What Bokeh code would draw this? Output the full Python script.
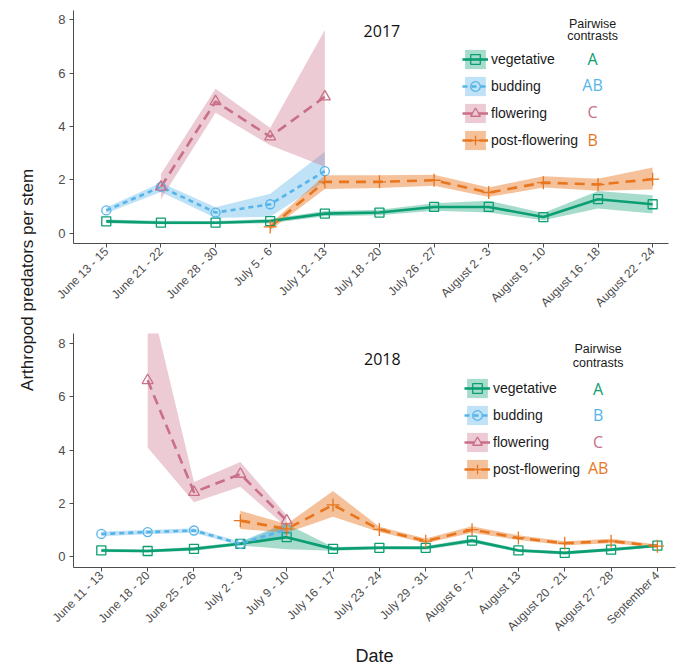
import math
from bokeh.plotting import figure
from bokeh.models import ColumnDataSource, Range1d, FixedTicker, Label, Legend, LegendItem
from bokeh.layouts import row, column
from bokeh.embed import file_html
from bokeh.resources import INLINE

# ---------------- data ----------------
dates_2017 = ["June 13 - 15", "June 21 - 22", "June 28 - 30", "July 5 - 6", "July 12 - 13",
              "July 18 - 20", "July 26 - 27", "August 2 - 3", "August 9 - 10",
              "August 16 - 18", "August 22 - 24"]
veg_2017 = [0.45, 0.40, 0.40, 0.46, 0.74, 0.78, 0.99, 0.99, 0.61, 1.28, 1.09]
veg_lo_2017 = [0.38, 0.34, 0.34, 0.38, 0.64, 0.68, 0.85, 0.78, 0.49, 0.93, 0.74]
veg_hi_2017 = [0.52, 0.47, 0.46, 0.54, 0.84, 0.88, 1.13, 1.22, 0.76, 1.59, 1.43]
bud_2017 = [0.86, 1.74, 0.78, 1.09, 2.33, None, None, None, None, None, None]
bud_lo_2017 = [0.75, 1.55, 0.58, 0.62, 1.95, None, None, None, None, None, None]
bud_hi_2017 = [0.97, 1.90, 0.98, 1.48, 3.06, None, None, None, None, None, None]
flow_2017 = [None, 1.74, 4.94, 3.62, 5.12, None, None, None, None, None, None]
flow_lo_2017 = [None, 1.28, 4.52, 3.30, 2.50, None, None, None, None, None, None]
flow_hi_2017 = [None, 2.22, 5.42, 3.95, 7.62, None, None, None, None, None, None]
post_2017 = [None, None, None, 0.24, 1.93, 1.93, 1.99, 1.53, 1.90, 1.83, 2.03]
post_lo_2017 = [None, None, None, 0.12, 1.66, 1.70, 1.78, 1.36, 1.72, 1.60, 1.64]
post_hi_2017 = [None, None, None, 0.36, 2.18, 2.18, 2.20, 1.72, 2.14, 2.05, 2.47]
letters_2017 = ["A", "AB", "C", "B"]

dates_2018 = ["June 11 - 13", "June 18 - 20", "June 25 - 26", "July 2 - 3", "July 9 - 10",
              "July 16 - 17", "July 23 - 24", "July 29 - 31", "August 6 - 7", "August 13",
              "August 20 - 21", "August 27 - 28", "September 4"]
veg_2018 = [0.23, 0.21, 0.29, 0.48, 0.73, 0.29, 0.33, 0.33, 0.60, 0.23, 0.14, 0.26, 0.41]
veg_lo_2018 = [0.17, 0.15, 0.22, 0.42, 0.28, 0.22, 0.27, 0.26, 0.52, 0.17, 0.08, 0.20, 0.35]
veg_hi_2018 = [0.29, 0.27, 0.36, 0.55, 1.22, 0.36, 0.40, 0.40, 0.68, 0.29, 0.20, 0.32, 0.47]
bud_2018 = [0.85, 0.92, 0.98, 0.48, 1.02, None, None, None, None, None, None, None, None]
bud_lo_2018 = [0.76, 0.84, 0.90, 0.42, 0.80, None, None, None, None, None, None, None, None]
bud_hi_2018 = [0.94, 1.00, 1.06, 0.56, 1.28, None, None, None, None, None, None, None, None]
flow_2018 = [None, 6.62, 2.42, 3.10, 1.35, None, None, None, None, None, None, None, None]
flow_lo_2018 = [None, 4.10, 2.04, 2.62, 1.10, None, None, None, None, None, None, None, None]
flow_hi_2018 = [None, 10.1, 2.80, 3.55, 1.55, None, None, None, None, None, None, None, None]
post_2018 = [None, None, None, 1.35, 1.04, 1.94, 1.02, 0.58, 1.01, 0.70, 0.50, 0.58, 0.39]
post_lo_2018 = [None, None, None, 1.04, 0.90, 1.50, 0.92, 0.50, 0.90, 0.62, 0.43, 0.50, 0.34]
post_hi_2018 = [None, None, None, 1.72, 1.22, 2.46, 1.12, 0.68, 1.14, 0.80, 0.58, 0.67, 0.45]
letters_2018 = ["A", "B", "C", "AB"]

y_ticks = [0, 2, 4, 6, 8]
stage_names = ["vegetative", "budding", "flowering", "post-flowering"]

# ---------------- styles ----------------
STYLES = [
    dict(color="#0A9E72", alpha=0.36, dash="solid", marker="square", size=9),
    dict(color="#56B4E9", alpha=0.38, dash="5 4", marker="circle", size=9),
    dict(color="#C96F88", alpha=0.36, dash="10 6", marker="triangle", size=11),
    dict(color="#E8761E", alpha=0.45, dash="10 7", marker="cross", size=13),
]
AXIS_COL = "#4D4D4D"
FONT = "Liberation Sans"
LETTER_FONT = "Open Sans"


def make_panel(cats, series, letters, year, xr, yr, fw, fh, mb_top, mb_bottom, mb_right,
               legend_loc, letter_x, letter_ys, pw_x, pw_ys, year_xy, show_xlabel):
    p = figure(frame_width=fw, frame_height=fh, x_range=Range1d(*xr), y_range=Range1d(*yr),
               toolbar_location=None, output_backend="svg",
               min_border_left=25, min_border_right=mb_right, min_border_top=mb_top,
               min_border_bottom=mb_bottom)
    p.outline_line_color = None
    p.grid.visible = False
    p.background_fill_color = "white"

    srcs = []
    for vals, lo, hi in series:
        idx = [i for i, v in enumerate(vals) if v is not None]
        srcs.append(ColumnDataSource(dict(x=idx, y=[vals[i] for i in idx],
                                          lo=[lo[i] for i in idx], hi=[hi[i] for i in idx])))
    areas, lines, pts = [], [], []
    for s, st in zip(srcs, STYLES):
        areas.append(p.varea(x="x", y1="lo", y2="hi", source=s, fill_color=st["color"],
                             fill_alpha=st["alpha"]))
    for s, st in zip(srcs, STYLES):
        lines.append(p.line(x="x", y="y", source=s, line_color=st["color"], line_width=2.6,
                            line_dash=st["dash"]))
    for s, st in zip(srcs, STYLES):
        pts.append(p.scatter(x="x", y="y", source=s, marker=st["marker"], size=st["size"],
                             fill_color=None, line_color=st["color"], line_width=1.3))

    items = [LegendItem(label=n, renderers=[a, l, m])
             for n, a, l, m in zip(stage_names, areas, lines, pts)]
    leg = Legend(items=items, location=legend_loc, glyph_width=26, glyph_height=24,
                 label_height=24, spacing=3, padding=0, margin=0, label_standoff=3,
                 border_line_color=None, background_fill_alpha=0,
                 label_text_font=FONT, label_text_font_size="14px", label_text_color="#1a1a1a")
    p.add_layout(leg)

    for let, y, st in zip(letters, letter_ys, STYLES):
        p.add_layout(Label(x=letter_x, y=y, text=let, text_color=st["color"], text_font=LETTER_FONT,
                           text_font_size="16px", text_align="center", text_baseline="middle"))
    for t, y in zip(["Pairwise", "contrasts"], pw_ys):
        p.add_layout(Label(x=pw_x, y=y, text=t, text_color="#1a1a1a", text_font=FONT,
                           text_font_size="12.5px", text_align="center", text_baseline="middle"))
    p.add_layout(Label(x=year_xy[0], y=year_xy[1], text=year, text_color="#111111",
                       text_font=LETTER_FONT, text_font_size="16px", text_align="left",
                       text_baseline="middle"))

    xa = p.xaxis[0]
    xa.ticker = FixedTicker(ticks=list(range(len(cats))))
    xa.major_label_overrides = {i: c for i, c in enumerate(cats)}
    xa.major_label_orientation = math.pi / 4
    xa.minor_tick_line_color = None
    xa.major_tick_in = 0
    xa.major_tick_out = 4
    xa.major_label_standoff = 2
    xa.major_label_text_font = FONT
    xa.major_label_text_font_size = "12px"
    xa.major_label_text_color = AXIS_COL
    xa.axis_line_color = AXIS_COL
    xa.major_tick_line_color = AXIS_COL
    if show_xlabel:
        xa.axis_label = "Date"
        xa.axis_label_standoff = 4
        xa.axis_label_text_font = FONT
        xa.axis_label_text_font_size = "18px"
        xa.axis_label_text_font_style = "normal"
        xa.axis_label_text_color = "#1a1a1a"

    ya = p.yaxis[0]
    ya.ticker = FixedTicker(ticks=y_ticks)
    ya.minor_tick_line_color = None
    ya.major_tick_in = 0
    ya.major_tick_out = 4
    ya.major_label_standoff = 4
    ya.major_label_text_font = FONT
    ya.major_label_text_font_size = "13px"
    ya.major_label_text_color = AXIS_COL
    ya.axis_line_color = AXIS_COL
    ya.major_tick_line_color = AXIS_COL
    return p


top = make_panel(
    dates_2017,
    [(veg_2017, veg_lo_2017, veg_hi_2017), (bud_2017, bud_lo_2017, bud_hi_2017),
     (flow_2017, flow_lo_2017, flow_hi_2017), (post_2017, post_lo_2017, post_hi_2017)],
    letters_2017, "2017", (-0.6, 10.29), (-0.38, 8.35), 595, 233, 10, 88, 5,
    (389, 91), 8.90, [6.52, 5.54, 4.53, 3.48], 8.90, [7.86, 7.41], (4.71, 7.60), False)

bottom = make_panel(
    dates_2018,
    [(veg_2018, veg_lo_2018, veg_hi_2018), (bud_2018, bud_lo_2018, bud_hi_2018),
     (flow_2018, flow_lo_2018, flow_hi_2018), (post_2018, post_lo_2018, post_hi_2018)],
    letters_2018, "2018", (-0.6, 12.39), (-0.41, 8.38), 602, 234, 2, 103, 1,
    (391, 86), 10.72, [6.31, 5.30, 4.32, 3.31], 10.72, [7.78, 7.29], (5.67, 7.44), True)

LAB_H = 670
lab = figure(width=48, height=LAB_H, x_range=Range1d(0, 48), y_range=Range1d(0, LAB_H),
             x_axis_type=None, y_axis_type=None, toolbar_location=None, output_backend="svg",
             min_border=0)
lab.outline_line_color = None
lab.add_layout(Label(x=27, y=LAB_H - 277, text="Arthropod predators  per stem", angle=math.pi / 2,
                     text_align="center", text_baseline="middle", text_font=FONT,
                     text_font_size="17px", text_color="#1a1a1a"))

layout = row(lab, column(top, bottom))
open("out.html", "w").write(file_html(layout, INLINE))
